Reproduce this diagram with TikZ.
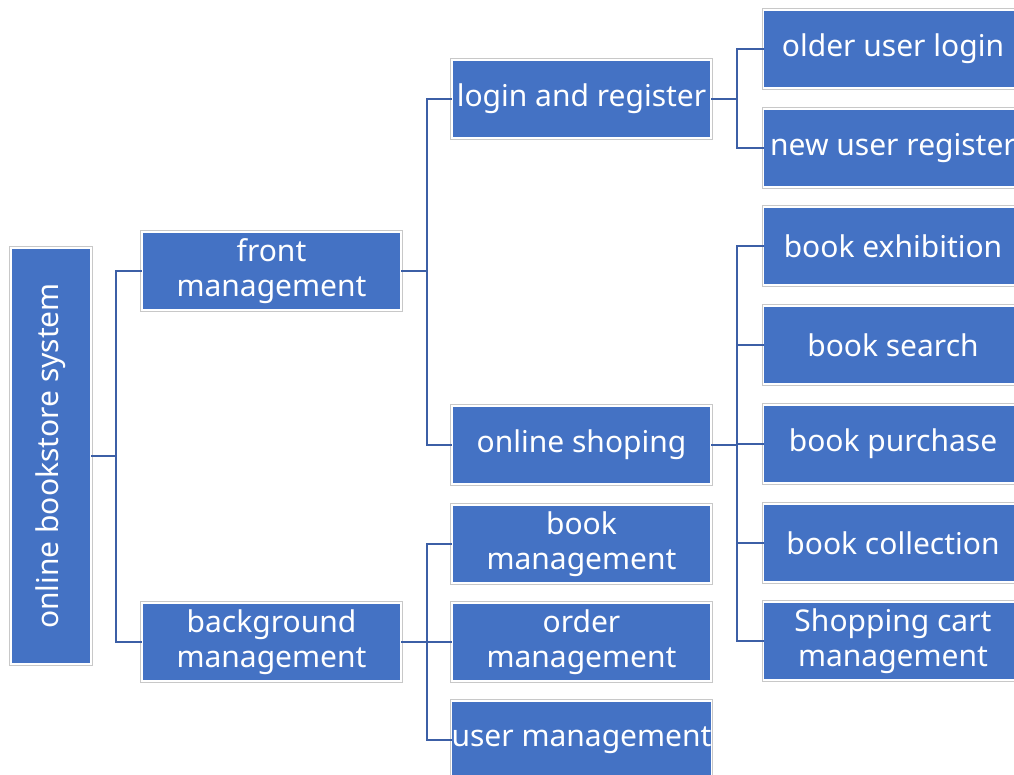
\documentclass[tikz,border=0pt]{standalone}
\usepackage{fontspec}
\setmainfont{Noto Sans}
\definecolor{boxblue}{HTML}{4472C4}
\definecolor{linkblue}{HTML}{3C5FA6}
\definecolor{rimgray}{HTML}{C8C8C8}
\begin{document}
\begin{tikzpicture}[x=1pt,y=-1pt,
  box/.style={rectangle, fill=boxblue, draw=white, line width=1.5pt,
    preaction={draw=rimgray, line width=3.5pt},
    minimum width=259pt, minimum height=78pt, inner sep=0pt, outer sep=0pt,
    text=white, align=center, font=\fontsize{30}{35}\selectfont},
  link/.style={draw=linkblue, line width=2.8pt}]
\useasboundingbox (0,0) rectangle (1014,774);

% root of the tree
\node[box, minimum width=80pt, minimum height=416pt] (root) at (51,456) {};
\node[rotate=90, text=white, font=\fontsize{30}{35}\selectfont] (roottext) at (root.center) {online bookstore system};

% second level
\node[box] (front) at (271.5,271) {front\\management};
\node[box] (back)  at (271.5,642) {background\\management};

% third level
\node[box] (login) at (581.5,99)  {login and register};
\node[box] (shop)  at (581.5,445) {online shoping};
\node[box] (bookm) at (581.5,544) {book\\management};
\node[box] (order) at (581.5,642) {order\\management};
\node[box] (userm) at (581.5,740) {user management};

% leaves
\node[box] (older)    at (893,49)  {older user login};
\node[box] (newuser)  at (893,148) {new user register};
\node[box] (exhib)    at (893,246) {book exhibition};
\node[box] (search)   at (893,345) {book search};
\node[box] (purchase) at (893,444) {book purchase};
\node[box] (collect)  at (893,543) {book collection};
\node[box] (cart)     at (893,641) {Shopping cart\\management};

% junction points
\coordinate (j0) at (116,456);
\coordinate (j1) at (427,271);
\coordinate (j2) at (427,642);
\coordinate (j3) at (737,99);
\coordinate (j4) at (737,445);

% connectors
\draw[link] (root.east) -- (j0);
\draw[link] (j0) |- (front.west);
\draw[link] (j0) |- (back.west);

\draw[link] (front.east) -- (j1);
\draw[link] (j1) |- (login.west);
\draw[link] (j1) |- (shop.west);

\draw[link] (back.east) -- (j2);
\draw[link] (j2) |- (bookm.west);
\draw[link] (j2) |- (order.west);
\draw[link] (j2) |- (userm.west);

\draw[link] (login.east) -- (j3);
\draw[link] (j3) |- (older.west);
\draw[link] (j3) |- (newuser.west);

\draw[link] (shop.east) -- (j4);
\draw[link] (j4) |- (exhib.west);
\draw[link] (j4) |- (search.west);
\draw[link] (j4) |- (purchase.west);
\draw[link] (j4) |- (collect.west);
\draw[link] (j4) |- (cart.west);
\end{tikzpicture}
\end{document}
